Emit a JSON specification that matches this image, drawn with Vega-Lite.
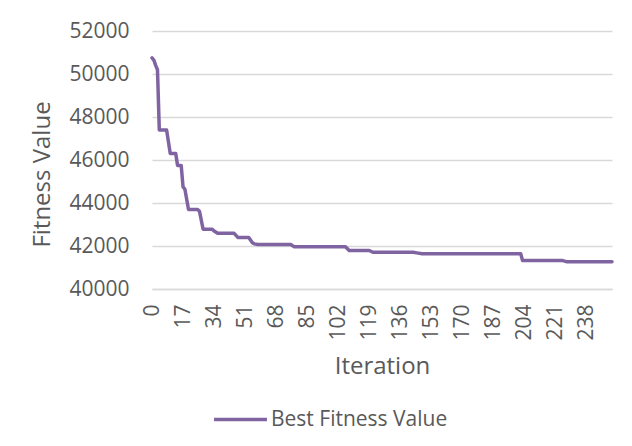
{
  "$schema": "https://vega.github.io/schema/vega-lite/v6.json",
  "width": 460,
  "height": 258,
  "autosize": {"type": "none"},
  "padding": {"left": 152, "right": 20, "top": 31, "bottom": 157},
  "background": "white",
  "config": {
    "font": "Open Sans",
    "view": {"stroke": null},
    "axis": {
      "labelFont": "Open Sans",
      "titleFont": "Open Sans",
      "labelColor": "#595959",
      "titleColor": "#595959",
      "labelFontSize": 21,
      "titleFontSize": 24,
      "titleFontWeight": "normal",
      "ticks": false
    },
    "legend": {
      "labelFont": "Open Sans",
      "labelFontSize": 21,
      "labelColor": "#595959",
      "labelLimit": 0
    }
  },
  "data": {
    "values": [
      {"iteration": 0, "fitness": 50750},
      {"iteration": 1, "fitness": 50650},
      {"iteration": 2, "fitness": 50400},
      {"iteration": 3, "fitness": 50200},
      {"iteration": 4, "fitness": 47400},
      {"iteration": 8, "fitness": 47400},
      {"iteration": 10, "fitness": 46300},
      {"iteration": 13, "fitness": 46300},
      {"iteration": 14, "fitness": 45750},
      {"iteration": 16, "fitness": 45750},
      {"iteration": 17, "fitness": 44750},
      {"iteration": 18, "fitness": 44650},
      {"iteration": 20, "fitness": 43700},
      {"iteration": 25, "fitness": 43700},
      {"iteration": 26, "fitness": 43620},
      {"iteration": 28, "fitness": 42780},
      {"iteration": 33, "fitness": 42780},
      {"iteration": 34, "fitness": 42700},
      {"iteration": 36, "fitness": 42590},
      {"iteration": 45, "fitness": 42590},
      {"iteration": 47, "fitness": 42400},
      {"iteration": 53, "fitness": 42400},
      {"iteration": 55, "fitness": 42150},
      {"iteration": 56, "fitness": 42100},
      {"iteration": 58, "fitness": 42070},
      {"iteration": 76, "fitness": 42070},
      {"iteration": 78, "fitness": 41960},
      {"iteration": 106, "fitness": 41960},
      {"iteration": 108, "fitness": 41790},
      {"iteration": 119, "fitness": 41790},
      {"iteration": 121, "fitness": 41710},
      {"iteration": 143, "fitness": 41710},
      {"iteration": 145, "fitness": 41680},
      {"iteration": 148, "fitness": 41640},
      {"iteration": 202, "fitness": 41640},
      {"iteration": 203, "fitness": 41320},
      {"iteration": 225, "fitness": 41320},
      {"iteration": 227, "fitness": 41270},
      {"iteration": 252, "fitness": 41270}
    ]
  },
  "mark": {"type": "line", "strokeWidth": 3.5, "strokeJoin": "round", "strokeCap": "round"},
  "encoding": {
    "x": {
      "field": "iteration",
      "type": "quantitative",
      "scale": {"domain": [0, 252], "nice": false, "zero": false},
      "axis": {
        "title": "Iteration",
        "values": [0, 17, 34, 51, 68, 85, 102, 119, 136, 153, 170, 187, 204, 221, 238],
        "labelAngle": 270,
        "labelPadding": 15,
        "titlePadding": 14,
        "grid": false,
        "domainColor": "#D9D9D9",
        "domainWidth": 1.3
      }
    },
    "y": {
      "field": "fitness",
      "type": "quantitative",
      "scale": {"domain": [40000, 52000], "nice": false, "zero": false},
      "axis": {
        "title": "Fitness Value",
        "titleY": 143,
        "values": [40000, 42000, 44000, 46000, 48000, 50000, 52000],
        "format": "d",
        "domain": false,
        "gridColor": "#D9D9D9",
        "gridWidth": 1.3,
        "labelPadding": 23,
        "titlePadding": 14
      }
    },
    "color": {
      "datum": "Best Fitness Value",
      "type": "nominal",
      "scale": {"range": ["#8064A2"]},
      "legend": {
        "title": null,
        "orient": "none",
        "legendX": 60,
        "legendY": 360,
        "symbolType": "stroke",
        "symbolSize": 2800,
        "symbolStrokeWidth": 3.5,
        "labelOffset": 2
      }
    }
  }
}
